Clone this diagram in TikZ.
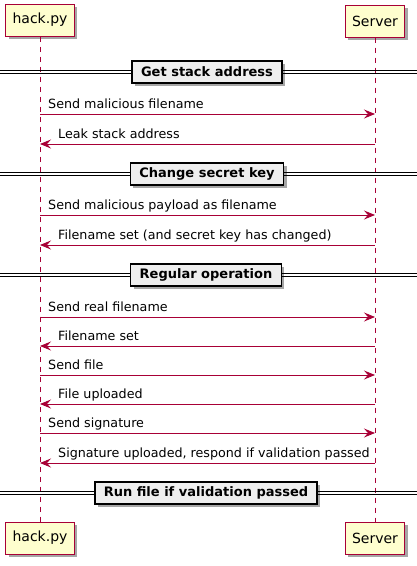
\documentclass[tikz,border=0pt]{standalone}
\usepackage{fontspec}
\setmainfont{DejaVu Sans}
\usetikzlibrary{positioning, arrows.meta, shadows, calc}
\definecolor{umlred}{HTML}{A80036}
\definecolor{umlfill}{HTML}{FEFECE}
\definecolor{divfill}{HTML}{EEEEEE}
\tikzstyle{actor} = [draw=umlred, fill=umlfill, line width=1pt,
minimum height=32pt, inner xsep=7pt,
font=\fontsize{14}{16}\selectfont,
drop shadow={shadow xshift=3pt, shadow yshift=-3pt, opacity=0.35, fill=black}]
\tikzstyle{lifeline} = [umlred, line width=0.9pt, dash pattern=on 5pt off 5pt]
\tikzstyle{divider} = [draw=black, fill=divfill, line width=1.5pt,
minimum height=22pt, inner xsep=9pt,
font=\bfseries\fontsize{13}{15}\selectfont,
drop shadow={shadow xshift=3pt, shadow yshift=-3pt, opacity=0.35, fill=black}]
\tikzstyle{sepline} = [black, line width=1pt]
\tikzstyle{msg} = [umlred, line width=0.9pt,
-{Stealth[length=11pt, width=9pt, inset=4pt]}]
\tikzstyle{msgtext} = [font=\fontsize{12.7}{15}\selectfont,
anchor=base west, inner sep=0pt]

\begin{document}
\begin{tikzpicture}[x=1pt, y=-1pt]
	\useasboundingbox (0,0) rectangle (417,566);
	%% participants
	\node[actor, minimum width=67pt] (hackTop) at (40,20) {hack.py};
	\node[actor, minimum width=59pt] (serverTop) at (375,21) {Server};
	\node[actor, minimum width=67pt] (hackBot) at (40,538) {hack.py};
	\node[actor, minimum width=59pt] (serverBot) at (375,538) {Server};
	\draw[lifeline] (hackTop) -- (hackBot);
	\draw[lifeline] (serverTop) -- (serverBot);
	%% dividers
	\foreach \y in {72, 174, 275, 493} {
		\draw[sepline] (0,\y-1.8) -- (417,\y-1.8);
		\draw[sepline] (0,\y+1.8) -- (417,\y+1.8);
	}
	\node[divider] (divStack) at (207,72) {Get stack address};
	\node[divider] (divKey) at (207,174) {Change secret key};
	\node[divider] (divRegular) at (206,275) {Regular operation};
	\node[divider] (divRun) at (206,493) {Run file if validation passed};
	%% Get stack address
	\draw[msg] (hackTop |- 0,114) -- (serverTop |- 0,114);
	\node[msgtext] (m1) at (48,108) {Send malicious filename};
	\draw[msg] (serverTop |- 0,144) -- (hackTop |- 0,144);
	\node[msgtext] (m2) at (58,138) {Leak stack address};
	%% Change secret key
	\draw[msg] (hackTop |- 0,215) -- (serverTop |- 0,215);
	\node[msgtext] (m3) at (48,209) {Send malicious payload as filename};
	\draw[msg] (serverTop |- 0,245) -- (hackTop |- 0,245);
	\node[msgtext] (m4) at (58,239) {Filename set (and secret key has changed)};
	%% Regular operation
	\draw[msg] (hackTop |- 0,317) -- (serverTop |- 0,317);
	\node[msgtext] (m5) at (48,311) {Send real filename};
	\draw[msg] (serverTop |- 0,346) -- (hackTop |- 0,346);
	\node[msgtext] (m6) at (58,340) {Filename set};
	\draw[msg] (hackTop |- 0,375) -- (serverTop |- 0,375);
	\node[msgtext] (m7) at (48,369) {Send file};
	\draw[msg] (serverTop |- 0,404) -- (hackTop |- 0,404);
	\node[msgtext] (m8) at (58,398) {File uploaded};
	\draw[msg] (hackTop |- 0,433) -- (serverTop |- 0,433);
	\node[msgtext] (m9) at (48,427) {Send signature};
	\draw[msg] (serverTop |- 0,463) -- (hackTop |- 0,463);
	\node[msgtext] (m10) at (58,457) {Signature uploaded, respond if validation passed};
\end{tikzpicture}
\end{document}
